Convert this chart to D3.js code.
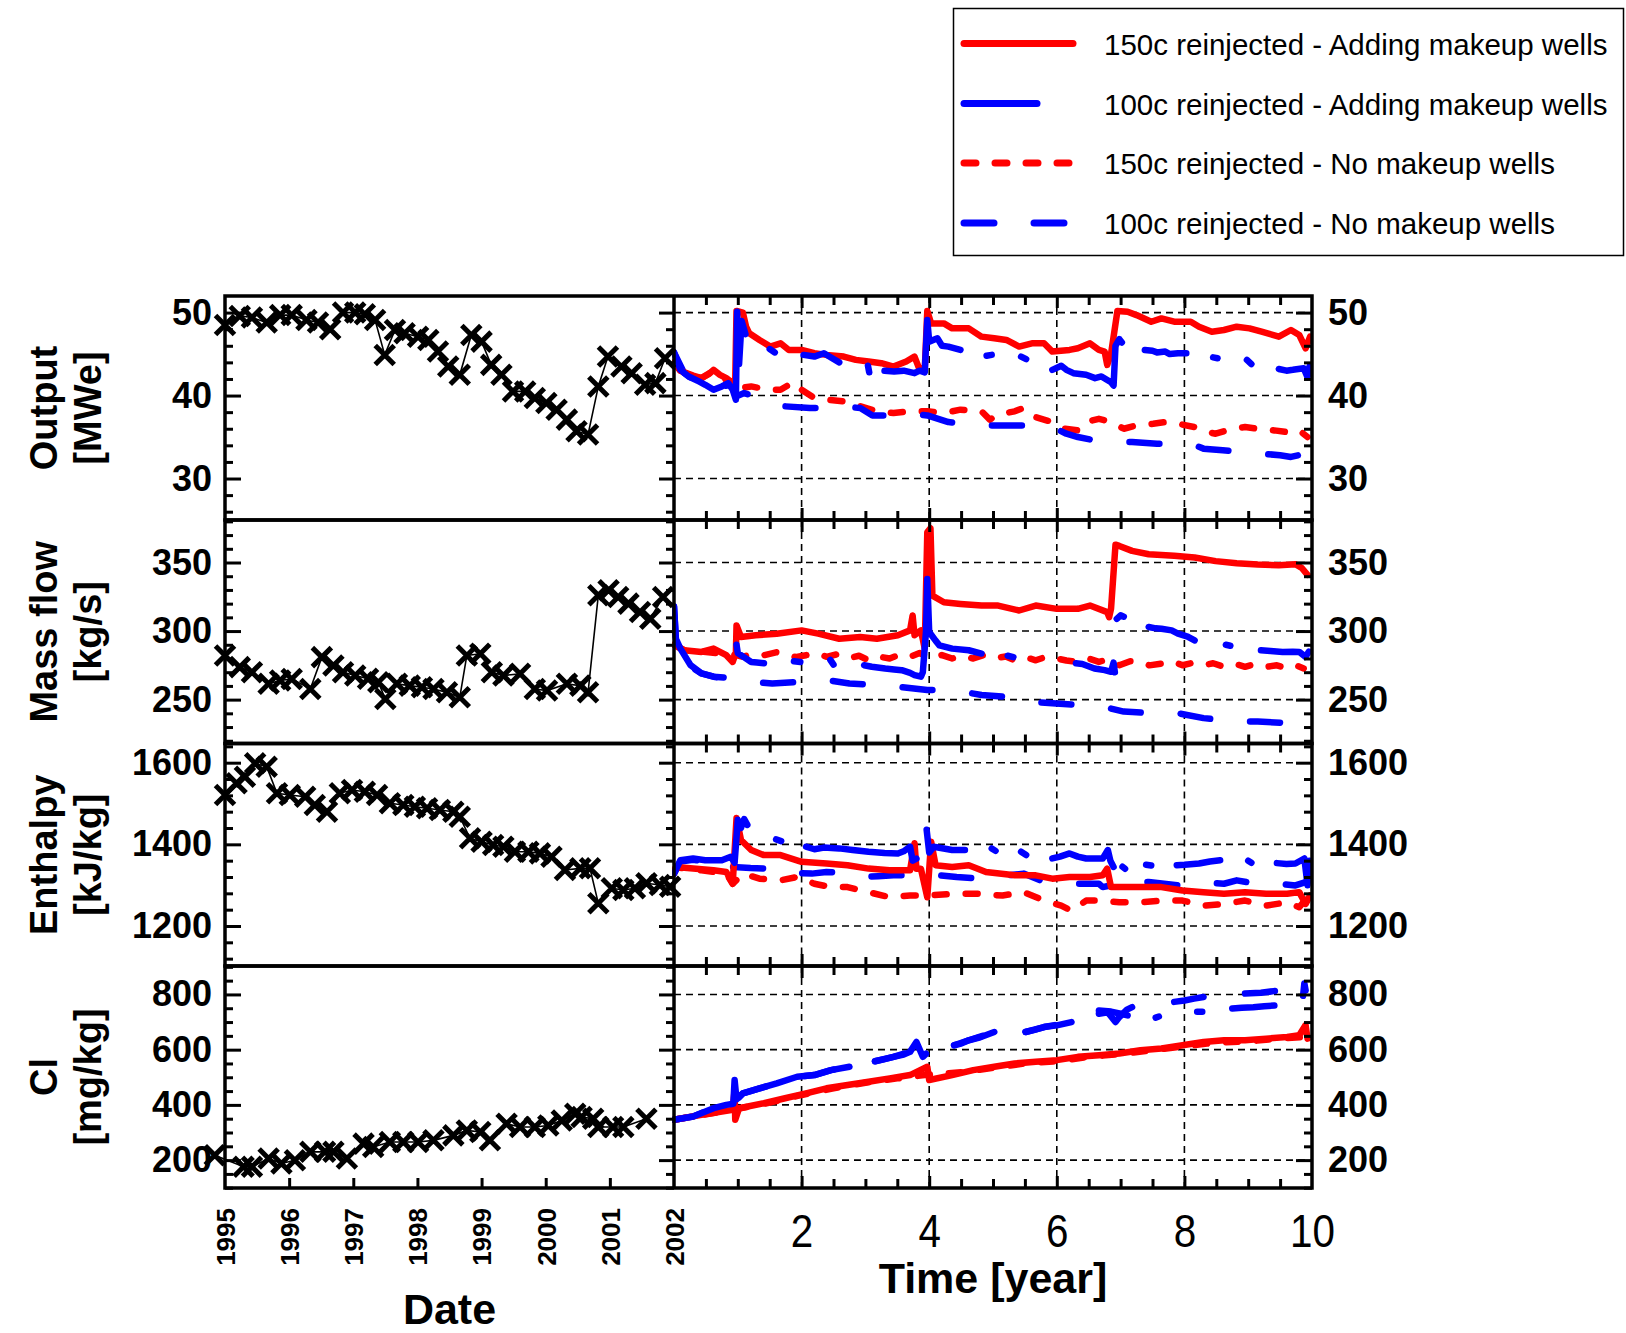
<!DOCTYPE html>
<html>
<head>
<meta charset="utf-8">
<script src="https://cdn.jsdelivr.net/npm/d3@7"></script>
<style>
  html, body { margin: 0; padding: 0; background: #fff; }
  svg { display: block; }
  text { font-family: "Liberation Sans", Arial, Helvetica, sans-serif; }
</style>
</head>
<body>
<svg id="chart" width="1626" height="1333"></svg>
<script>
// ---------- Field history (measured), left half ----------
const outHistDate = [1995.0,1995.23,1995.42,1995.65,1995.86,1996.04,1996.27,1996.45,1996.64,1996.84,1997.03,1997.18,1997.34,1997.49,1997.65,1997.80,1998.01,1998.17,1998.32,1998.48,1998.66,1998.84,1999.0,1999.15,1999.31,1999.49,1999.68,1999.83,2000.01,2000.17,2000.33,2000.48,2000.66,2000.82,2000.97,2001.18,2001.34,2001.55,2001.71,2001.86];
const outHist = [48.5,49.6,49.4,48.8,49.7,49.7,49.1,48.8,48.0,50.0,50.0,49.8,49.1,44.9,47.9,47.5,47.1,46.7,45.3,43.5,42.5,47.3,46.5,43.7,42.5,40.5,40.5,39.7,39.1,38.3,37.1,35.7,35.3,41.1,44.7,43.5,42.7,41.3,41.5,44.5];

const massHistDate = [1995.0,1995.23,1995.42,1995.68,1995.86,1996.04,1996.33,1996.51,1996.69,1996.84,1997.03,1997.23,1997.39,1997.50,1997.68,1997.88,1998.07,1998.25,1998.46,1998.66,1998.77,1998.98,1999.16,1999.34,1999.60,1999.83,2000.02,2000.33,2000.54,2000.66,2000.82,2000.98,2001.13,2001.29,2001.47,2001.63,2001.83];
const massHist = [282.2,273.7,270,261.5,263.9,265.1,257.8,281,274.9,270,267.6,265.2,262.7,250.5,261.5,260.2,259,257.8,255.3,251.7,282.2,283.4,270,267.6,268.8,257.8,256.6,261.5,260.2,255.3,326.1,329.8,324.9,320,313.9,309,324.9];

const enthHistDate = [1995.0,1995.18,1995.31,1995.47,1995.65,1995.81,1996.01,1996.25,1996.40,1996.59,1996.79,1996.98,1997.18,1997.37,1997.57,1997.78,1997.96,1998.15,1998.35,1998.56,1998.66,1998.82,1999.0,1999.18,1999.34,1999.52,1999.73,1999.91,2000.09,2000.30,2000.54,2000.69,2000.82,2001.03,2001.21,2001.39,2001.57,2001.78,2001.94];
const enthHist = [1520.7,1549.4,1565.6,1598.4,1590,1524.9,1520.7,1516.6,1496.3,1479.9,1524.9,1533,1528.8,1520.7,1500.4,1496.3,1492.2,1488.2,1484,1479.9,1467.6,1414.7,1406.4,1398.3,1394.2,1381.9,1381.9,1377.9,1369.7,1337.1,1341.2,1341.2,1255.5,1292.3,1288.1,1292.3,1304.5,1300.3,1296.2];

const clHistDate = [1994.84,1995.29,1995.42,1995.68,1995.88,1996.09,1996.33,1996.56,1996.69,1996.90,1997.16,1997.31,1997.57,1997.78,1998.01,1998.25,1998.56,1998.77,1998.98,1999.13,1999.39,1999.60,1999.83,2000.04,2000.25,2000.46,2000.56,2000.74,2000.82,2001.05,2001.21,2001.57];
const clHist = [217.6,176,176,205.8,187.8,199.6,229.9,229.9,229.9,205.8,259.7,247.8,265.8,265.8,265.8,271.6,289.6,307.6,301.8,271.6,331.7,319.8,319.8,325.5,343.5,367.6,355.8,349.6,319.8,319.8,319.8,349.6];

// ---------- Forecast runs, right half: [time in years, value]; null = no output ----------
const outRedSolid = [[0,44.0],[0.1,43.0],[0.3,42.4],[0.43,42.1],[0.55,42.6],[0.62,43.1],[0.72,42.5],[0.82,42.1],[0.92,41.5],[0.96,42.0],[0.98,50.2],[1.08,50.0],[1.13,48.3],[1.18,47.5],[1.34,46.7],[1.51,45.9],[1.67,46.3],[1.8,45.5],[2.0,45.5],[2.2,45.1],[2.39,44.9],[2.66,44.7],[2.85,44.3],[3.05,44.1],[3.25,43.9],[3.44,43.5],[3.64,44.1],[3.77,44.7],[3.84,43.3],[3.93,43.1],[3.97,50.2],[4.03,48.7],[4.23,48.7],[4.36,48.1],[4.62,48.1],[4.82,47.1],[5.02,46.9],[5.21,46.7],[5.41,45.9],[5.61,46.3],[5.8,46.3],[5.93,45.3],[6.2,45.5],[6.33,45.7],[6.52,46.3],[6.66,45.5],[6.75,45.3],[6.79,43.7],[6.85,45.0],[6.95,50.2],[7.11,50.1],[7.25,49.7],[7.48,48.9],[7.64,49.3],[7.84,48.9],[8.1,48.9],[8.23,48.3],[8.43,47.7],[8.62,47.9],[8.82,48.3],[9.02,48.1],[9.21,47.7],[9.48,47.1],[9.67,47.9],[9.8,47.3],[9.9,45.7],[9.97,47.1]];
const outBlueSolid = [[0,45.2],[0.1,43.1],[0.23,42.3],[0.39,41.7],[0.49,41.3],[0.62,40.7],[0.75,41.1],[0.85,41.5],[0.92,40.7],[0.97,39.5],[0.99,50.1],[1.02,43.8],[1.06,49.0],[1.12,47.4],null,[1.5,45.6],[1.58,45.2],null,[2.03,44.9],[2.2,44.7],[2.35,45.1],[2.5,44.4],[2.59,44.0],null,[3.04,43.6],[3.06,42.8],null,[3.3,43.0],[3.45,42.9],[3.6,43.0],[3.77,42.7],[3.85,43.0],[3.93,42.8],[3.97,49.1],[4.0,46.5],[4.13,46.9],[4.2,46.0],[4.3,45.9],[4.49,45.5],null,[4.9,44.8],[4.98,44.9],null,[5.44,44.7],[5.52,44.4],null,[5.93,43.1],[6.07,43.6],[6.15,43.1],[6.26,42.7],[6.46,42.5],[6.6,42.1],[6.7,42.3],[6.85,41.6],[6.89,41.2],[6.92,46.0],[6.98,46.8],[7.02,46.4],null,[7.38,45.5],[7.5,45.4],[7.57,45.2],[7.7,45.3],[7.77,45.0],[7.9,45.1],[8.03,45.1],null,[8.45,44.6],[8.52,44.5],null,[8.98,44.3],[9.05,43.8],null,[9.48,43.2],[9.6,43.0],[9.7,43.1],[9.87,43.3],[9.93,42.2],[9.96,43.5]];
const outRedDash = [[0,44.0],[0.1,43.0],[0.3,42.4],[0.43,42.1],[0.62,43.0],[0.8,42.0],[0.9,41.3],[0.96,40.2],[1.02,40.9],[1.21,41.1],[1.48,40.7],[1.67,40.7],[1.87,41.6],[2.0,40.7],[2.2,39.7],[2.39,39.5],[2.66,39.3],[2.92,38.7],[3.18,38.1],[3.44,37.9],[3.7,38.1],[3.97,38.1],[4.23,37.9],[4.49,38.3],[4.82,38.1],[4.95,37.1],[5.08,37.7],[5.34,38.1],[5.48,38.5],[5.67,37.4],[5.93,36.8],[6.13,36.0],[6.33,35.8],[6.46,36.8],[6.66,37.2],[6.85,36.8],[7.05,36.0],[7.25,36.4],[7.51,36.6],[7.7,36.8],[7.9,36.6],[8.16,36.2],[8.36,35.6],[8.49,35.4],[8.75,36.0],[8.95,36.2],[9.15,36.0],[9.41,35.8],[9.61,35.6],[9.8,35.8],[9.93,35.0]];
const outBlueDash = [[0,45.2],[0.16,42.7],[0.39,41.5],[0.56,40.7],[0.75,41.1],[0.89,41.3],[0.98,39.9],[1.1,40.3],[1.34,39.7],[1.54,39.1],[1.74,38.7],[2.13,38.5],[2.46,38.5],[2.75,38.6],[2.92,38.5],[3.11,37.6],[3.44,37.6],[3.7,37.8],[3.97,37.6],[4.3,36.8],[4.55,36.6],[4.75,36.4],[5.08,36.4],[5.54,36.4],[5.93,36.2],[6.15,35.4],[6.33,35.0],[6.59,34.6],[6.79,34.4],[7.18,34.4],[7.57,34.2],[8.1,34.2],[8.3,33.6],[8.6,33.4],[8.89,33.2],[9.21,33.0],[9.5,32.8],[9.67,32.6],[9.9,33.0],[9.93,32.0]];

const massRedSolid = [[0,290],[0.03,289.6],[0.16,286],[0.43,284.8],[0.62,287.2],[0.82,282.4],[0.92,277.5],[0.97,284],[0.98,304.1],[1.05,295.7],[1.28,296.9],[1.61,298.1],[2.0,300.5],[2.26,298.1],[2.59,294.4],[2.92,295.7],[3.18,294.4],[3.51,296.9],[3.7,300.5],[3.74,311.4],[3.77,297],[3.87,300.5],[3.93,287.2],[3.97,372],[4.02,375],[4.05,325.8],[4.23,321],[4.49,319.8],[4.82,318.6],[5.08,318.6],[5.41,315],[5.67,318.6],[6.0,316.2],[6.33,316.2],[6.52,318.6],[6.79,313.8],[6.82,310.1],[6.85,316.2],[6.92,363],[6.98,362.1],[7.18,358.5],[7.44,356],[7.84,355],[8.16,353.6],[8.49,351],[8.82,349.5],[9.15,348.5],[9.48,348],[9.74,348.8],[9.84,346],[9.93,341]];
const massBlueSolid = [[0,318],[0.03,294.4],[0.1,287.2],[0.26,275.1],[0.43,269.1],[0.62,266.7],[0.66,266.4],null,[0.98,290],[1.0,284],[1.05,282.4],[1.21,277.5],[1.3,277],[1.41,276.5],null,[1.88,278],[1.98,277.5],null,[2.45,279],[2.5,275.5],null,[2.98,275.1],[3.1,274],[3.31,272.7],[3.45,272],[3.57,271.5],[3.7,269.5],[3.77,267.9],[3.87,266.7],[3.9,270],[3.95,300],[3.97,338],[4.0,299.3],[4.1,293],[4.16,289.6],[4.36,287.2],[4.62,286],[4.82,283.6],null,[5.23,282],[5.32,281],null,[6.3,276.5],[6.4,276],[6.59,272.7],[6.75,271.5],[6.85,270.3],[6.89,277],[6.91,270],null,[6.94,308.9],[7.0,311.5],[7.05,310.5],null,[7.44,303],[7.55,302],[7.64,301.7],[7.8,300.5],[7.9,298.1],[8.05,296],[8.16,293.2],null,[8.65,290],[8.72,289.3],null,[9.2,286],[9.35,285.5],[9.54,284.8],[9.7,285],[9.8,284.8],[9.9,281.2],[9.95,285]];
const massRedDash = [[0,290],[0.03,289],[0.16,286],[0.43,285],[0.75,283.6],[0.98,282.4],[1.08,281.2],[1.25,283.5],[1.41,282.4],[1.6,284.5],[1.74,283.6],[1.9,281],[2.07,282.4],[2.25,284],[2.39,281.2],[2.55,283],[2.72,280],[2.9,282],[3.05,278.7],[3.2,281.5],[3.38,280],[3.55,283],[3.7,281.2],[3.85,284],[4.03,280],[4.2,282.5],[4.36,280],[4.5,282],[4.69,280],[4.85,282.5],[5.02,280],[5.2,281.5],[5.34,278.7],[5.5,281],[5.67,278.7],[5.85,281.5],[6.0,280],[6.15,278.5],[6.33,277.5],[6.5,280],[6.66,277.5],[6.8,279.5],[6.98,275.1],[7.15,278],[7.31,277.5],[7.45,275],[7.64,276.3],[7.8,278],[7.97,275.1],[8.15,277],[8.3,275.1],[8.45,276.5],[8.62,273.9],[8.8,276],[8.95,273.9],[9.1,276],[9.28,273.9],[9.45,275],[9.61,272.7],[9.75,275],[9.87,272.7]];
const massBlueDash = [[0,318],[0.03,292],[0.1,285],[0.23,275.1],[0.43,269.1],[0.62,266.7],[0.8,266],[0.98,265.5],[1.21,263],[1.54,261.8],[2.0,263],[2.39,264.3],[2.75,261.8],[3.18,260.6],[3.51,259.4],[3.97,257],[4.36,257],[4.82,253.4],[5.15,252.2],[5.54,248.6],[5.93,247.3],[6.33,246.1],[6.72,244.9],[7.05,241.3],[7.51,240.1],[7.9,240.1],[8.3,236.5],[8.82,234],[9.15,234],[9.61,232.9],[9.87,231.6]];

const enthRedSolid = [[0,1330],[0.03,1344.7],[0.3,1340.6],[0.62,1336.5],[0.82,1332.4],[0.92,1303.5],[0.98,1464.3],[1.05,1410.7],[1.21,1386],[1.41,1373.6],[1.67,1373.6],[2.0,1357.1],[2.39,1353],[2.72,1348.9],[3.05,1340.6],[3.38,1336.5],[3.7,1336.5],[3.77,1402.5],[3.8,1340],[3.87,1340],[3.97,1270.5],[4.03,1406.6],[4.1,1348.9],[4.36,1344.7],[4.62,1348.9],[4.89,1332.4],[5.34,1324.1],[5.67,1324.1],[5.93,1315.9],[6.2,1320],[6.52,1320],[6.72,1324.1],[6.79,1340.6],[6.85,1295.3],[7.18,1295.3],[7.64,1295.3],[7.97,1287],[8.3,1282.9],[8.62,1278.8],[8.95,1282.9],[9.28,1278.8],[9.61,1278.8],[9.8,1282.9],[9.9,1254],[9.97,1275]];
const enthBlueSolid = [[0,1328],[0.1,1361],[0.3,1365.4],[0.49,1361.2],[0.75,1361.2],[0.89,1369.5],[0.95,1355],[1.0,1460],[1.05,1440],[1.1,1462],[1.15,1447.8],null,[1.6,1412],[1.68,1408],null,[2.07,1394.2],[2.2,1388],[2.35,1392],[2.59,1390.1],[2.8,1386],[3.05,1381.9],[3.3,1379],[3.51,1377.7],[3.6,1383],[3.7,1394.2],[3.74,1360],[3.8,1365],null,[3.96,1435.5],[4.0,1380],[4.07,1394.2],[4.36,1386],[4.56,1386],null,[4.98,1390],[5.04,1384],null,[5.44,1382],[5.52,1374],null,[5.93,1365.4],[6.05,1370],[6.2,1377.7],[6.33,1370],[6.46,1365.4],[6.72,1365.4],[6.8,1386],[6.84,1360],[6.89,1344.7],null,[7.03,1345],[7.07,1340],null,[7.4,1350],[7.48,1348],null,[7.88,1349],[8.0,1350],[8.23,1353],[8.4,1358],[8.56,1361.2],null,[9.0,1360],[9.05,1355],null,[9.45,1354],[9.6,1352],[9.74,1353],[9.88,1365.4],[9.93,1300],[9.96,1360]];
const enthRedDash = [[0,1330],[0.03,1344],[0.43,1336.5],[0.82,1328.3],[0.92,1303.5],[1.08,1328.3],[1.34,1315.9],[1.67,1311.8],[1.93,1320],[2.2,1303.5],[2.46,1295.3],[2.72,1295.3],[3.05,1282.9],[3.38,1270.5],[3.7,1274.6],[3.97,1274.6],[4.36,1278.8],[4.75,1278.8],[5.15,1274.6],[5.48,1282.9],[5.8,1262.3],[6.07,1249.9],[6.23,1237.5],[6.46,1262.3],[6.72,1262.3],[6.98,1258.1],[7.31,1258.1],[7.64,1262.3],[7.97,1262.3],[8.3,1249.9],[8.62,1254],[8.95,1262.3],[9.28,1249.9],[9.61,1258.1],[9.8,1245.8],[9.93,1270.5]];
const enthBlueDash = [[0,1328],[0.1,1358],[0.3,1362],[0.49,1358],[0.75,1358],[0.85,1360],[0.92,1344.7],[1.2,1342],[1.48,1340.6],[1.7,1328.3],[1.9,1330],[2.16,1328.3],[2.39,1332.4],[2.79,1328.3],[2.98,1320],[3.2,1322],[3.44,1324.1],[3.7,1324.1],[3.95,1320],[4.16,1324.1],[4.43,1320],[4.82,1315.9],[5.02,1320],[5.48,1328.3],[5.74,1311.8],[6.07,1311.8],[6.33,1303.5],[6.66,1303.5],[6.72,1295.3],[7.11,1307.6],[7.44,1307.6],[7.9,1299.4],[8.16,1307.6],[8.62,1303.5],[8.82,1311.8],[9.28,1299.4],[9.48,1303.5],[9.74,1299.4],[9.9,1307.6]];

const clRedSolid = [[0,346],[0.43,363.9],[0.75,376],[0.92,382],[0.95,454],[0.96,346],[1.02,388],[1.41,406],[1.74,424],[2.07,442],[2.39,460],[2.72,472],[3.05,484],[3.38,496],[3.7,508],[3.97,538],[4.0,490],[4.36,508],[4.69,526],[5.02,538],[5.34,550],[5.67,556],[6.0,562],[6.33,574],[6.66,580],[6.98,586],[7.31,598],[7.64,604],[7.97,616],[8.3,628],[8.62,634],[8.95,634],[9.28,640],[9.61,646],[9.8,652],[9.9,689],[9.93,640]];
const clBlueSolid = [[0,346],[0.3,358],[0.62,388],[0.82,400],[0.93,404],[0.95,490],[0.98,420],[1.08,442],[1.34,460],[1.61,478],[1.93,502],[2.2,508],[2.46,526],[2.75,538],null,[3.15,558],[3.3,566],[3.44,574],[3.6,582],[3.7,592],[3.8,628],[3.9,574],[3.95,585],null,[4.39,616],[4.5,622],[4.62,634],[4.8,645],[5.02,664],null,[5.51,664],[5.65,672],[5.8,682],[6.0,688],[6.23,700],null,[6.66,730],[6.8,735],[6.92,700],[6.98,718],[7.1,745],[7.18,754],null,[7.55,716],[7.6,720],null,[8.2,737],[8.28,737],null,[8.75,749],[8.9,752],[9.08,754],[9.25,757],[9.41,760],null];
const clRedDash = [[0,346],[0.5,366],[1.0,386],[1.5,408],[2.0,436],[2.5,460],[3.0,480],[3.5,496],[4.0,510],[4.5,518],[5.0,534],[5.5,550],[6.0,558],[6.5,574],[7.0,584],[7.5,598],[8.0,612],[8.5,626],[9.0,630],[9.5,640],[9.9,646]];
const clBlueDash = [[0,346],[0.3,358],[0.62,388],[0.82,400],[0.95,410],[1.08,442],[1.34,460],[1.61,478],[1.93,502],[2.2,508],[2.46,526],[2.75,538],null,[3.15,558],[3.44,574],[3.7,592],[3.95,585],null,[4.39,616],[4.62,634],[5.02,664],null,[5.51,664],[5.8,682],[6.23,700],null,[6.66,742],[6.85,738],[7.0,730],[7.11,724],null,[7.84,773],[8.0,778],[8.15,785],[8.3,791],null,[8.95,803],[9.2,806],[9.4,812],[9.54,816],null,[9.86,795],[9.88,840],[9.9,815]];

// ---------- Labels ----------
const legendLabels = [
  "150c reinjected - Adding makeup wells",
  "100c reinjected - Adding makeup wells",
  "150c reinjected - No makeup wells",
  "100c reinjected - No makeup wells"
];
const dateTicks = [1995, 1996, 1997, 1998, 1999, 2000, 2001, 2002];
const yearTicks = [2, 4, 6, 8, 10];

// ---------- Layout ----------
const svg = d3.select("#chart");
const X0 = 225, XM = 674, X1 = 1312;
const edges = [296, 520, 743.5, 966, 1188];
const RED = "#ff0000", BLUE = "#0000ff";

const xDate = d3.scaleLinear().domain([1995, 2002]).range([X0, XM]);
const xYear = d3.scaleLinear().domain([0, 10]).range([XM, X1]);

const styles = {
  redDash:   { color: RED,  dash: "12,19" },
  blueDash:  { color: BLUE, dash: "30,40" },
  redSolid:  { color: RED,  dash: null },
  blueSolid: { color: BLUE, dash: null }
};

const panels = [
  { title: ["Output", "[MWe]"], domain: [25, 52], major: [30, 40, 50], minor: 2,
    hist: [outHistDate, outHist],
    sim: { redDash: outRedDash, blueDash: outBlueDash, redSolid: outRedSolid, blueSolid: outBlueSolid } },
  { title: ["Mass flow", "[kg/s]"], domain: [218, 381], major: [250, 300, 350], minor: 10,
    hist: [massHistDate, massHist],
    sim: { redDash: massRedDash, blueDash: massBlueDash, redSolid: massRedSolid, blueSolid: massBlueSolid } },
  { title: ["Enthalpy", "[kJ/kg]"], domain: [1102, 1647], major: [1200, 1400, 1600], minor: 40,
    hist: [enthHistDate, enthHist],
    sim: { redDash: enthRedDash, blueDash: enthBlueDash, redSolid: enthRedSolid, blueSolid: enthBlueSolid } },
  { title: ["Cl", "[mg/kg]"], domain: [99, 903], major: [200, 400, 600, 800], minor: 50,
    hist: [clHistDate, clHist],
    sim: { redDash: clRedDash, blueDash: clBlueDash, redSolid: clRedSolid, blueSolid: clBlueSolid } }
];

const defs = svg.append("defs");

function styleAxis(g, w) {
  g.select(".domain").remove();
  g.selectAll(".tick line").attr("stroke", "#000").attr("stroke-width", w);
}

const halfYears = d3.range(0.5, 10, 0.5);

panels.forEach((p, i) => {
  const top = edges[i], bot = edges[i + 1];
  const y = d3.scaleLinear().domain(p.domain).range([bot, top]);
  const minors = d3.range(Math.ceil(p.domain[0] / p.minor) * p.minor, p.domain[1], p.minor)
    .filter(v => !p.major.includes(v));
  const g = svg.append("g");

  // grid in the forecast half
  g.append("g").selectAll("line.h").data(p.major).join("line")
    .attr("x1", XM).attr("x2", X1).attr("y1", d => y(d)).attr("y2", d => y(d))
    .attr("stroke", "#000").attr("stroke-width", 1.6).attr("stroke-dasharray", "7,5");
  g.append("g").selectAll("line.v").data([2, 4, 6, 8]).join("line")
    .attr("x1", d => xYear(d)).attr("x2", d => xYear(d)).attr("y1", top).attr("y2", bot)
    .attr("stroke", "#000").attr("stroke-width", 1.6).attr("stroke-dasharray", "7,5");

  // forecast runs
  const clipId = "clip" + i;
  defs.append("clipPath").attr("id", clipId).append("rect")
    .attr("x", XM - 2).attr("y", top).attr("width", X1 - XM + 2).attr("height", bot - top);
  const line = d3.line().defined(d => d !== null).x(d => xYear(d[0])).y(d => y(d[1]));
  const runs = g.append("g").attr("clip-path", `url(#${clipId})`);
  ["redDash", "blueDash", "redSolid", "blueSolid"].forEach(k => {
    runs.append("path").datum(p.sim[k])
      .attr("d", line)
      .attr("fill", "none")
      .attr("stroke", styles[k].color)
      .attr("stroke-width", 6.5)
      .attr("stroke-linecap", "round")
      .attr("stroke-linejoin", "round")
      .attr("stroke-dasharray", styles[k].dash);
  });

  // measured history
  const histPts = p.hist[0].map((d, j) => [d, p.hist[1][j]]);
  g.append("path").datum(histPts)
    .attr("d", d3.line().x(d => xDate(d[0])).y(d => y(d[1])))
    .attr("fill", "none").attr("stroke", "#000").attr("stroke-width", 1.6);
  g.append("g").selectAll("path").data(histPts).join("path")
    .attr("transform", d => `translate(${xDate(d[0])},${y(d[1])})`)
    .attr("d", "M-9.5,-9.5L9.5,9.5M-9.5,9.5L9.5,-9.5")
    .attr("fill", "none").attr("stroke", "#000").attr("stroke-width", 5);

  // frame
  g.append("rect").attr("x", X0).attr("y", top).attr("width", X1 - X0).attr("height", bot - top)
    .attr("fill", "none").attr("stroke", "#000").attr("stroke-width", 3.5);
  g.append("line").attr("x1", XM).attr("x2", XM).attr("y1", top).attr("y2", bot)
    .attr("stroke", "#000").attr("stroke-width", 3.5);

  // left axis with labels
  g.append("g").attr("transform", `translate(${X0},0)`)
    .call(d3.axisLeft(y).tickValues(p.major).tickSize(-16).tickPadding(13).tickFormat(d3.format("d")))
    .call(a => styleAxis(a, 3))
    .call(a => a.selectAll("text").attr("fill", "#000").attr("font-size", 36).attr("font-weight", "bold"));
  g.append("g").attr("transform", `translate(${X0},0)`)
    .call(d3.axisLeft(y).tickValues(minors).tickSize(-8).tickFormat(""))
    .call(a => styleAxis(a, 3));

  // inner ticks on the divider (history side)
  g.append("g").attr("transform", `translate(${XM},0)`)
    .call(d3.axisRight(y).tickValues(p.major).tickSize(-15).tickFormat(""))
    .call(a => styleAxis(a, 3));
  g.append("g").attr("transform", `translate(${XM},0)`)
    .call(d3.axisRight(y).tickValues(minors).tickSize(-8).tickFormat(""))
    .call(a => styleAxis(a, 3));

  // right axis with labels
  g.append("g").attr("transform", `translate(${X1},0)`)
    .call(d3.axisRight(y).tickValues(p.major).tickSize(-16).tickPadding(16).tickFormat(d3.format("d")))
    .call(a => styleAxis(a, 3))
    .call(a => a.selectAll("text").attr("fill", "#000").attr("font-size", 36).attr("font-weight", "bold"));
  g.append("g").attr("transform", `translate(${X1},0)`)
    .call(d3.axisRight(y).tickValues(minors).tickSize(-8).tickFormat(""))
    .call(a => styleAxis(a, 3));

  // time ticks along top and bottom of forecast half
  [[top, d3.axisTop], [bot, d3.axisBottom]].forEach(([yy, ax]) => {
    g.append("g").attr("transform", `translate(0,${yy})`)
      .call(ax(xYear).tickValues(halfYears.filter(v => v % 2 !== 0)).tickSize(-9).tickFormat(""))
      .call(a => styleAxis(a, 3));
    g.append("g").attr("transform", `translate(0,${yy})`)
      .call(ax(xYear).tickValues([2, 4, 6, 8]).tickSize(-12).tickFormat(""))
      .call(a => styleAxis(a, 3));
  });

  // axis title
  const cy = (top + bot) / 2;
  [[57, p.title[0]], [101, p.title[1]]].forEach(([bx, txt]) => {
    g.append("text")
      .attr("transform", `translate(${bx},${cy}) rotate(-90)`)
      .attr("text-anchor", "middle")
      .attr("font-size", 38).attr("font-weight", "bold").attr("fill", "#000")
      .text(txt);
  });
});

// date axis under the history half
const bottomY = edges[4];
svg.append("g").attr("transform", `translate(0,${bottomY})`)
  .call(d3.axisBottom(xDate).tickValues(dateTicks.slice(1, -1)).tickSize(-10).tickFormat(""))
  .call(a => styleAxis(a, 3));
svg.append("g").attr("transform", `translate(0,${bottomY})`)
  .call(d3.axisBottom(xDate).tickValues(dateTicks).tickSize(0).tickFormat(d3.format("d")))
  .call(a => a.select(".domain").remove())
  .call(a => a.selectAll("text")
    .attr("transform", "rotate(-90)")
    .attr("text-anchor", "end")
    .attr("x", -20).attr("y", 0).attr("dy", "0.36em")
    .attr("fill", "#000").attr("font-size", 26).attr("font-weight", "bold"));

// time axis labels under the forecast half
svg.append("g").attr("transform", `translate(0,${bottomY})`)
  .call(d3.axisBottom(xYear).tickValues(yearTicks).tickSize(0).tickFormat(d3.format("d")))
  .call(a => a.select(".domain").remove())
  .call(a => a.selectAll("text")
    .attr("y", 59).attr("dy", 0)
    .attr("transform", "scale(0.86,1)")
    .attr("fill", "#000").attr("font-size", 47));

svg.append("text").attr("x", (X0 + XM) / 2).attr("y", 1324)
  .attr("text-anchor", "middle").attr("font-size", 43).attr("font-weight", "bold").text("Date");
svg.append("text").attr("x", (XM + X1) / 2).attr("y", 1293)
  .attr("text-anchor", "middle").attr("font-size", 43).attr("font-weight", "bold").text("Time [year]");

// legend
const legend = svg.append("g");
legend.append("rect").attr("x", 953.5).attr("y", 8.5).attr("width", 670).attr("height", 247)
  .attr("fill", "#fff").attr("stroke", "#000").attr("stroke-width", 1.5);
const legendKeys = ["redSolid", "blueSolid", "redDash", "blueDash"];
const legendRows = [43.5, 103.5, 163, 223];
const legendEnds = [1073, 1037, 1073, 1073];
legendKeys.forEach((k, j) => {
  legend.append("line")
    .attr("x1", 964).attr("x2", legendEnds[j]).attr("y1", legendRows[j]).attr("y2", legendRows[j])
    .attr("stroke", styles[k].color).attr("stroke-width", 7).attr("stroke-linecap", "round")
    .attr("stroke-dasharray", styles[k].dash);
  legend.append("text").attr("x", 1104).attr("y", legendRows[j] + 11)
    .attr("font-size", 29.5).attr("fill", "#000").text(legendLabels[j]);
});
</script>
</body>
</html>
